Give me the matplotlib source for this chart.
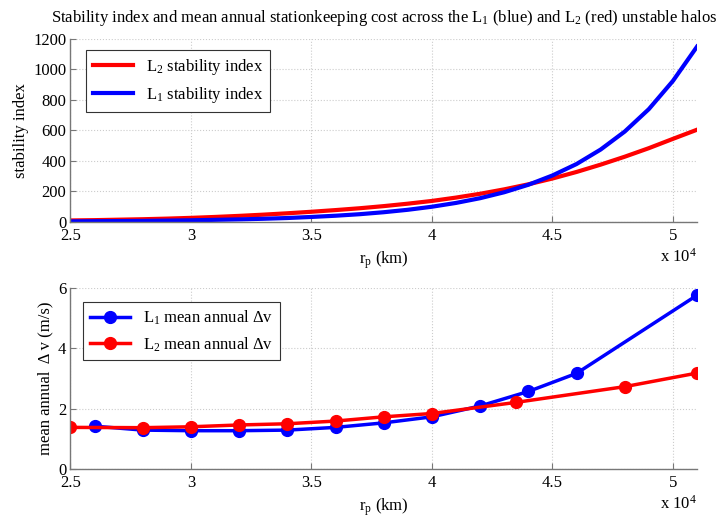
import matplotlib
matplotlib.use("Agg")
import matplotlib.pyplot as plt
from matplotlib.ticker import FuncFormatter

plt.rcParams['font.family'] = ['Liberation Serif', 'DejaVu Serif']
plt.rcParams['mathtext.fontset'] = 'custom'
plt.rcParams['mathtext.rm'] = 'Liberation Serif'
plt.rcParams['mathtext.it'] = 'Liberation Serif:italic'

# stability index curves, r_p in km
rp_curve = [25000, 26000, 27000, 28000, 29000, 30000, 31000, 32000, 33000,
            34000, 35000, 36000, 37000, 38000, 39000, 40000, 41000, 42000,
            43000, 44000, 45000, 46000, 47000, 48000, 49000, 50000, 51000]
l1_stab = [4, 5, 6, 7, 9, 11, 14, 17, 21, 26, 33, 41, 51, 64, 80, 100, 125,
           156, 195, 244, 305, 380, 475, 593, 740, 925, 1150]
l2_stab = [10, 12, 15, 18, 22, 27, 33, 40, 48, 57, 67, 78, 90, 104, 120, 138,
           160, 185, 214, 247, 285, 328, 376, 428, 484, 545, 605]

# mean annual delta-v
l1_rp = [26000, 28000, 30000, 32000, 34000, 36000, 38000, 40000, 42000,
         44000, 46000, 51000]
l1_dv = [1.42, 1.29, 1.27, 1.27, 1.29, 1.38, 1.53, 1.73, 2.09, 2.57, 3.17, 5.76]
l2_rp = [25000, 28000, 30000, 32000, 34000, 36000, 38000, 40000, 43500,
         48000, 51000]
l2_dv = [1.38, 1.37, 1.40, 1.46, 1.50, 1.59, 1.73, 1.84, 2.21, 2.73, 3.18]

xticks = [25000, 30000, 35000, 40000, 45000, 50000]

fig = plt.figure(figsize=(7.26, 5.19), dpi=100)
ax1 = fig.add_axes([0.0971, 0.5723, 0.863, 0.3526])
ax2 = fig.add_axes([0.0971, 0.0963, 0.863, 0.3488])

fs = 12
axcol = '#777777'


def style(ax):
    for s in ['top', 'right']:
        ax.spines[s].set_visible(False)
    for s in ['left', 'bottom']:
        ax.spines[s].set_color(axcol)
        ax.spines[s].set_linewidth(1.0)
    ax.set_xlim(25000, 51000)
    ax.set_xticks(xticks)
    ax.xaxis.set_major_formatter(FuncFormatter(lambda v, p: f"{v / 1e4:g}"))
    ax.tick_params(direction='in', color=axcol, length=4, labelsize=fs, pad=3)
    ax.tick_params(axis='x', pad=4)
    ax.grid(True, linestyle=':', color='#cccccc', linewidth=0.8)
    ax.set_axisbelow(True)
    ax.set_xlabel(r'r$_\mathrm{p}$ (km)', fontsize=fs, labelpad=4)
    ax.text(1.0, -0.19, r'x 10$^4$', transform=ax.transAxes, ha='right',
            va='center', fontsize=fs)


# top panel
ax1.plot(rp_curve, l2_stab, color='#ff0000', lw=3, label=r'L$_2$ stability index')
ax1.plot(rp_curve, l1_stab, color='#0000ff', lw=3, label=r'L$_1$ stability index')
ax1.set_ylim(0, 1200)
ax1.set_yticks(range(0, 1201, 200))
ax1.set_ylabel('stability index', fontsize=fs, labelpad=3)
style(ax1)
ax1.set_title(r'Stability index and mean annual stationkeeping cost across the '
              r'L$_1$ (blue) and L$_2$ (red) unstable halos', fontsize=12, pad=12)
leg1 = ax1.legend(loc='upper left', bbox_to_anchor=(0.025, 0.94), fontsize=fs,
                  fancybox=False, edgecolor='#333333', framealpha=1,
                  handlelength=2.4, borderaxespad=0, labelspacing=0.5)
leg1.get_frame().set_linewidth(0.8)

# bottom panel
ax2.plot(l1_rp, l1_dv, color='#0000ff', lw=2.5, marker='o', ms=8.5,
         label=r'L$_1$ mean annual Δv')
ax2.plot(l2_rp, l2_dv, color='#ff0000', lw=2.5, marker='o', ms=8.5,
         label=r'L$_2$ mean annual Δv')
ax2.set_ylim(0, 6)
ax2.set_yticks([0, 2, 4, 6])
ax2.set_ylabel('mean annual  Δ v (m/s)', fontsize=fs, labelpad=3)
style(ax2)
leg2 = ax2.legend(loc='upper left', bbox_to_anchor=(0.02, 0.923), fontsize=fs,
                  fancybox=False, edgecolor='#333333', framealpha=1,
                  handlelength=2.4, borderaxespad=0, labelspacing=0.5)
leg2.get_frame().set_linewidth(0.8)

fig.savefig('out.png', dpi=100)
